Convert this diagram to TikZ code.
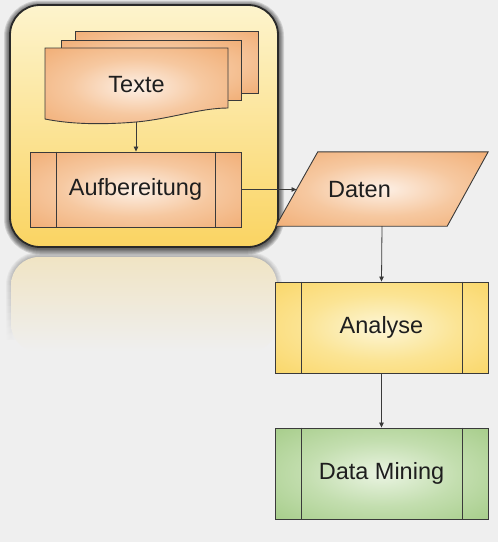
\documentclass[tikz,border=0pt]{standalone}
\usepackage{fontspec}
\setmainfont{Liberation Sans}
\usetikzlibrary{arrows.meta,fadings}
\definecolor{bg}{RGB}{239,239,239}
\definecolor{lineC}{RGB}{58,58,58}
\definecolor{txt}{RGB}{30,30,30}
\definecolor{orOut}{RGB}{240,168,108}
\definecolor{orMid}{RGB}{246,200,160}
\definecolor{orIn}{RGB}{253,240,230}
\definecolor{yeOut}{RGB}{250,212,96}
\definecolor{yeMid}{RGB}{251,228,148}
\definecolor{yeIn}{RGB}{252,246,215}
\definecolor{grOut}{RGB}{160,201,130}
\definecolor{grMid}{RGB}{195,222,175}
\definecolor{grIn}{RGB}{234,244,226}
\definecolor{frTop}{RGB}{253,244,205}
\definecolor{frBot}{RGB}{250,212,98}
\definecolor{refl}{RGB}{240,228,196}
\pgfdeclareradialshading{orshade}{\pgfpoint{0bp}{0bp}}{color(0bp)=(orIn); color(18bp)=(orMid); color(40bp)=(orOut); color(70bp)=(orOut)}
\pgfdeclareradialshading{yeshade}{\pgfpoint{0bp}{0bp}}{color(0bp)=(yeIn); color(18bp)=(yeMid); color(40bp)=(yeOut); color(70bp)=(yeOut)}
\pgfdeclareradialshading{grshade}{\pgfpoint{0bp}{0bp}}{color(0bp)=(grIn); color(18bp)=(grMid); color(40bp)=(grOut); color(70bp)=(grOut)}
\begin{document}
\begin{tikzpicture}[x=1pt,y=-1pt,
  lbl/.style={font=\fontsize{23.5}{27}\selectfont, text=txt},
  boxshape/.style={draw=lineC, line width=0.9pt, inner sep=0pt, lbl},
  orangebox/.style={boxshape, shading=orshade},
  yellowbox/.style={boxshape, shading=yeshade},
  greenbox/.style={boxshape, shading=grshade},
  sheet/.style={draw=lineC, line width=0.9pt, shading=orshade},
  conn/.style={draw=lineC, line width=0.8pt, -{Triangle[length=5pt,width=4.5pt]}},
  frame/.style={draw=lineC!70!black, line width=1.8pt, rounded corners=30pt,
     top color=frTop, bottom color=frBot},
  halo/.style={black, rounded corners=30pt}
]
\useasboundingbox (0,0) rectangle (498,542);
\fill[bg] (0,0) rectangle (498,542);

% reflection of the frame
\foreach \w in {2,4,6,8,10}{
  \draw[halo, rounded corners=28pt, opacity=0.05, line width=\w pt, path fading=south] (11,340) -- (11,257) -- (277,257) -- (277,340);
}
\shade[top color=refl, bottom color=bg, rounded corners=28pt] (11,257) rectangle (277,352);

% shadow of the grouping frame
\foreach \w in {2,4,6,8,10,12}{
  \draw[halo, opacity=0.13, line width=\w pt] (10,6.5) rectangle (278,248.5);
}
% grouping frame
\path[frame] (10,5) rectangle (278,247);

% stacked documents
\path[sheet] (75,31) rectangle (258,93);
\path[sheet] (61,40) rectangle (241,100);
\path[sheet] (45,48) -- (228,48) -- (228,108)
   .. controls (200,108) and (170,119) .. (136,122)
   .. controls (100,125) and (70,124) .. (45,119) -- cycle;
\node[lbl] (texte) at (136.5,85) {Texte};
\coordinate (texteb) at (136,122);

% process nodes
\node[orangebox, minimum width=211pt, minimum height=75pt] (aufb) at (135.5,189.5) {Aufbereitung};
\node[yellowbox, minimum width=213pt, minimum height=91pt] (analyse) at (381.5,327.5) {Analyse};
\node[greenbox, minimum width=213pt, minimum height=91pt] (dm) at (381.5,473.5) {Data Mining};
\foreach \n in {aufb,analyse,dm}{
  \draw[lineC, line width=0.9pt] ([xshift=26.5pt]\n.north west) -- ([xshift=26.5pt]\n.south west);
  \draw[lineC, line width=0.9pt] ([xshift=-26.5pt]\n.north east) -- ([xshift=-26.5pt]\n.south east);
}

% data parallelogram
\node[minimum width=212pt, minimum height=74pt, inner sep=0pt] (daten) at (382,189) {};
\path[sheet] ([xshift=42pt]daten.north west) -- (daten.north east)
   -- ([xshift=-41pt]daten.south east) -- (daten.south west) -- cycle;
\node[lbl] (datenlbl) at (359.5,190) {Daten};
\coordinate (datenw) at (296.5,189.5);

% connectors
\draw[conn] (texteb) -- (texteb |- aufb.north);
\draw[conn] (aufb.east) -- (datenw);
\draw[conn] (daten.south) -- (analyse.north);
\draw[conn] (analyse.south) -- (dm.north);
\end{tikzpicture}
\end{document}
